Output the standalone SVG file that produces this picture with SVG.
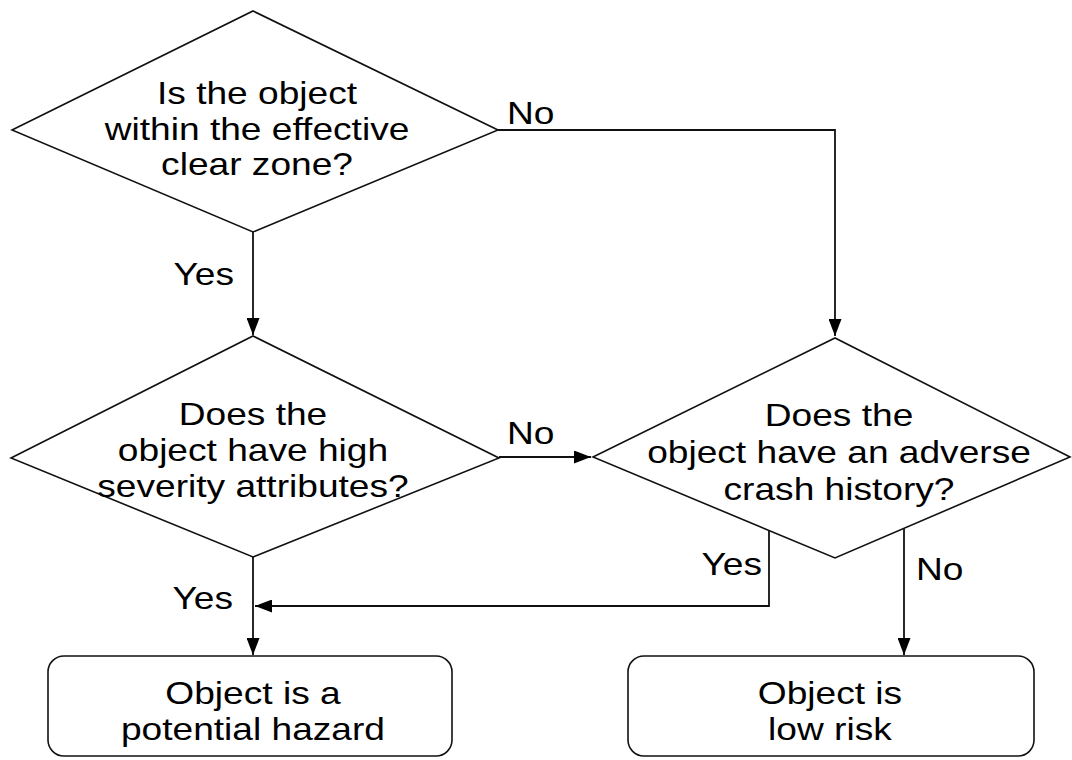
<svg xmlns="http://www.w3.org/2000/svg" width="1072" height="760" viewBox="0 0 1072 760">
<style>
.s{fill:#fff;stroke:#111;stroke-width:1.6;stroke-linejoin:miter}
.c{fill:none;stroke:#111;stroke-width:1.8}
text{font-family:"Liberation Sans",Arial,sans-serif;font-size:32px;fill:#000}
.m{text-anchor:middle}
.e{text-anchor:end}
</style>
<defs>
<marker id="a" markerUnits="userSpaceOnUse" markerWidth="17" markerHeight="13" refX="17" refY="6.5" orient="auto">
<path d="M0,0 L17,6.5 L0,13 z" fill="#000"/>
</marker>
</defs>
<rect width="1072" height="760" fill="#fff"/>
<g id="connectors">
<path class="c" d="M498,130 H835 V336" marker-end="url(#a)"/>
<path class="c" d="M253,232 V335" marker-end="url(#a)"/>
<path class="c" d="M499,457 H591" marker-end="url(#a)"/>
<path class="c" d="M253,557 V655" marker-end="url(#a)"/>
<path class="c" d="M769,531 V606 H255" marker-end="url(#a)"/>
<path class="c" d="M904,529 V655" marker-end="url(#a)"/>
<text transform="scale(1.16,1)" x="437.1" y="124">No</text>
<text class="e" transform="scale(1.16,1)" x="201.7" y="285">Yes</text>
<text transform="scale(1.16,1)" x="437.1" y="444">No</text>
<text class="e" transform="scale(1.16,1)" x="200.9" y="609">Yes</text>
<text class="e" transform="scale(1.16,1)" x="656.9" y="575">Yes</text>
<text transform="scale(1.16,1)" x="789.7" y="580">No</text>
</g>
<g id="d1">
<polygon class="s" points="12,130 253,11 498,130 253,232"/>
<text class="m" transform="scale(1.16,1)" x="221.6" y="104">Is the object</text>
<text class="m" transform="scale(1.16,1)" x="221.6" y="140">within the effective</text>
<text class="m" transform="scale(1.16,1)" x="221.6" y="175">clear zone?</text>
</g>
<g id="d2">
<polygon class="s" points="11,458 253,336 499,458 253,557"/>
<text class="m" transform="scale(1.16,1)" x="218.1" y="425">Does the</text>
<text class="m" transform="scale(1.16,1)" x="218.1" y="461">object have high</text>
<text class="m" transform="scale(1.16,1)" x="218.1" y="497">severity attributes?</text>
</g>
<g id="d3">
<polygon class="s" points="593,457 835,338 1070,457 835,558"/>
<text class="m" transform="scale(1.16,1)" x="723.3" y="426">Does the</text>
<text class="m" transform="scale(1.16,1)" x="723.3" y="463">object have an adverse</text>
<text class="m" transform="scale(1.16,1)" x="723.3" y="500">crash history?</text>
</g>
<g id="r1">
<rect class="s" x="48" y="656" width="404" height="100" rx="16"/>
<text class="m" transform="scale(1.16,1)" x="218.1" y="704">Object is a</text>
<text class="m" transform="scale(1.16,1)" x="218.1" y="740">potential hazard</text>
</g>
<g id="r2">
<rect class="s" x="628" y="656" width="406" height="100" rx="16"/>
<text class="m" transform="scale(1.16,1)" x="715.5" y="704">Object is</text>
<text class="m" transform="scale(1.16,1)" x="715.5" y="740">low risk</text>
</g>
</svg>
